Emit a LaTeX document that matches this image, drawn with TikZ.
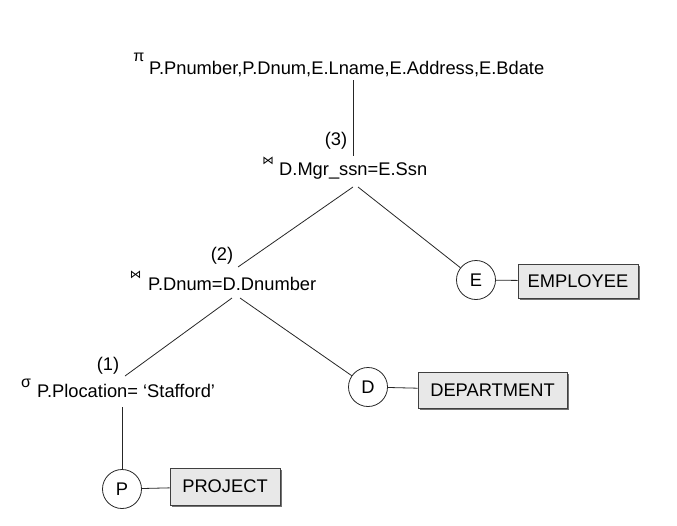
\documentclass[tikz,border=0pt]{standalone}
\usepackage{fontspec}
\setmainfont{Liberation Sans}
\newfontfamily\djv{DejaVu Sans}
\begin{document}
\begin{tikzpicture}[x=1pt,y=-1pt,
  txt/.style={inner sep=0pt,font=\fontsize{18.3}{20}\selectfont},
  sym/.style={inner sep=0pt,font=\fontsize{16}{17}\selectfont},
  bt/.style={inner sep=0pt,font=\djv\fontsize{11.5}{12}\selectfont},
  rel/.style={circle,draw=black!85,line width=0.8pt,minimum size=39pt,inner sep=0pt,font=\fontsize{18.3}{20}\selectfont},
  tbl/.style={draw=black!75,fill=black!9,line width=0.8pt,inner sep=0pt,font=\fontsize{18.3}{20}\selectfont},
  ln/.style={line width=0.8pt,draw=black!85}]
\useasboundingbox (0,0) rectangle (677,525);
% projection
\node[sym] (pi) at (139,57) {π};
\node[txt,anchor=base west] (pit) at (149,74) {P.Pnumber,P.Dnum,E.Lname,E.Address,E.Bdate};
% join 3
\node[txt] (l3) at (336,141) {(3)};
\node[bt] (j3) at (268,161) {⋈};
\node[txt,anchor=base west] (j3t) at (279,175) {D.Mgr\_ssn=E.Ssn};
% join 2
\node[txt] (l2) at (222,256) {(2)};
\node[bt] (j2) at (135.5,274.5) {⋈};
\node[txt,anchor=base west] (j2t) at (148,290) {P.Dnum=D.Dnumber};
% select 1
\node[txt] (l1) at (108,366) {(1)};
\node[sym] (sg) at (26,383) {σ};
\node[txt,anchor=base west] (sgt) at (37,397) {P.Plocation= ‘Stafford’};
% leaves
\node[rel] (P) at (122,489) {P};
\node[rel] (D) at (368,387) {D};
\node[rel] (E) at (476,280) {E};
\fill[black!55] (172,470) rectangle (282,507);
\node[tbl,minimum width=110pt,minimum height=37pt] (PR) at (225,486.5) {PROJECT};
\fill[black!55] (420,374) rectangle (569,410);
\node[tbl,minimum width=149pt,minimum height=36pt] (DE) at (492.5,390) {DEPARTMENT};
\fill[black!55] (520,266) rectangle (640,300);
\node[tbl,minimum width=120pt,minimum height=34pt] (EM) at (578,281) {EMPLOYEE};
% connector anchor points
\coordinate (a1) at (353,80);
\coordinate (a2) at (353,156);
\coordinate (b1) at (353,187);
\coordinate (b2) at (238,267);
\coordinate (b3) at (358,187);
\coordinate (c1) at (232,298);
\coordinate (c2) at (125,376);
\coordinate (c3) at (240,298);
\coordinate (d1) at (122,407);
\draw[ln] (a1) -- (a2);
\draw[ln] (b1) -- (b2);
\draw[ln] (b3) -- (E);
\draw[ln] (c1) -- (c2);
\draw[ln] (c3) -- (D);
\draw[ln] (d1) -- (P);
\draw[ln] (P) -- (PR);
\draw[ln] (D) -- (DE);
\draw[ln] (E) -- (EM);
\end{tikzpicture}
\end{document}
